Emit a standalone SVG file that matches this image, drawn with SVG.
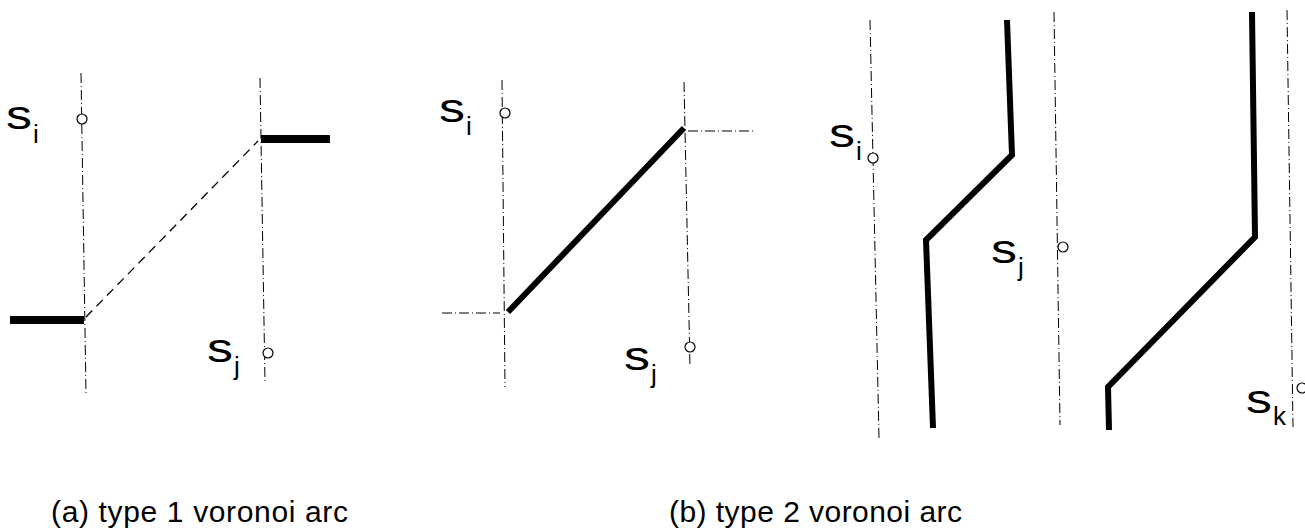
<svg xmlns="http://www.w3.org/2000/svg" width="1305" height="531" viewBox="0 0 1305 531">
<style>
.ref{fill:none;stroke:#000;stroke-width:1;stroke-dasharray:10 3 1 3}
.dash{fill:none;stroke:#000;stroke-width:1.3;stroke-dasharray:9 6}
.arc{fill:none;stroke:#000;stroke-width:6;stroke-linejoin:miter}
.bar{fill:none;stroke:#000;stroke-width:8}
.site{fill:#fff;stroke:#000;stroke-width:1.2}
.s{font-family:"Liberation Sans",Arial,sans-serif;font-size:40px;fill:#000}
.sub{font-family:"Liberation Sans",Arial,sans-serif;font-size:26px;fill:#000}
.cap{font-family:"Liberation Sans",Arial,sans-serif;font-size:30px;fill:#000}
</style>
<rect width="1305" height="531" fill="#fff"/>
<g id="connectors">
  <line class="ref" x1="81" y1="73" x2="86" y2="393"/>
  <line class="ref" x1="260" y1="78" x2="265" y2="383"/>
  <line class="dash" x1="86" y1="317" x2="258" y2="141"/>
  <line class="bar" x1="10" y1="320" x2="84" y2="320"/>
  <line class="bar" x1="261" y1="139" x2="330" y2="139"/>
  <line class="ref" x1="502" y1="80" x2="505" y2="387"/>
  <line class="ref" x1="684" y1="82" x2="690" y2="367"/>
  <line class="ref" x1="442" y1="313" x2="500" y2="313"/>
  <line class="ref" x1="688" y1="131" x2="755" y2="131"/>
  <line class="arc" x1="508" y1="312" x2="684" y2="128"/>
  <line class="ref" x1="870" y1="20" x2="879" y2="438"/>
  <line class="ref" x1="1054" y1="12" x2="1060" y2="425"/>
  <line class="ref" x1="1287" y1="10" x2="1293" y2="427"/>
  <polyline class="arc" points="1007,20 1012,155 926,240 933,428"/>
  <polyline class="arc" points="1252,12 1255,237 1108,387 1109,430"/>
</g>
<g id="site-a-i"><circle class="site" cx="82" cy="119" r="5"/>
  <text class="s" transform="translate(6,129) scale(1.3,1)">s</text><text class="sub" x="33" y="143">i</text></g>
<g id="site-a-j"><circle class="site" cx="268" cy="353" r="5"/>
  <text class="s" transform="translate(207,362) scale(1.3,1)">s</text><text class="sub" x="234" y="375">j</text></g>
<g id="site-b-i"><circle class="site" cx="505" cy="113" r="5"/>
  <text class="s" transform="translate(439,122) scale(1.3,1)">s</text><text class="sub" x="466" y="135">i</text></g>
<g id="site-b-j"><circle class="site" cx="690" cy="347" r="5"/>
  <text class="s" transform="translate(624,370) scale(1.3,1)">s</text><text class="sub" x="651" y="383">j</text></g>
<g id="site-c-i"><circle class="site" cx="873" cy="158" r="5"/>
  <text class="s" transform="translate(829,147) scale(1.3,1)">s</text><text class="sub" x="856" y="160">i</text></g>
<g id="site-c-j"><circle class="site" cx="1063" cy="247" r="5"/>
  <text class="s" transform="translate(991,263) scale(1.3,1)">s</text><text class="sub" x="1018" y="276">j</text></g>
<g id="site-c-k"><circle class="site" cx="1302" cy="388" r="5"/>
  <text class="s" transform="translate(1246,413) scale(1.3,1)">s</text><text class="sub" x="1273" y="425">k</text></g>
<g id="captions">
  <text class="cap" x="51" y="522" textLength="297" lengthAdjust="spacing">(a) type 1  voronoi arc</text>
  <text class="cap" x="669" y="522" textLength="293" lengthAdjust="spacing">(b) type 2 voronoi arc</text>
</g>
</svg>
